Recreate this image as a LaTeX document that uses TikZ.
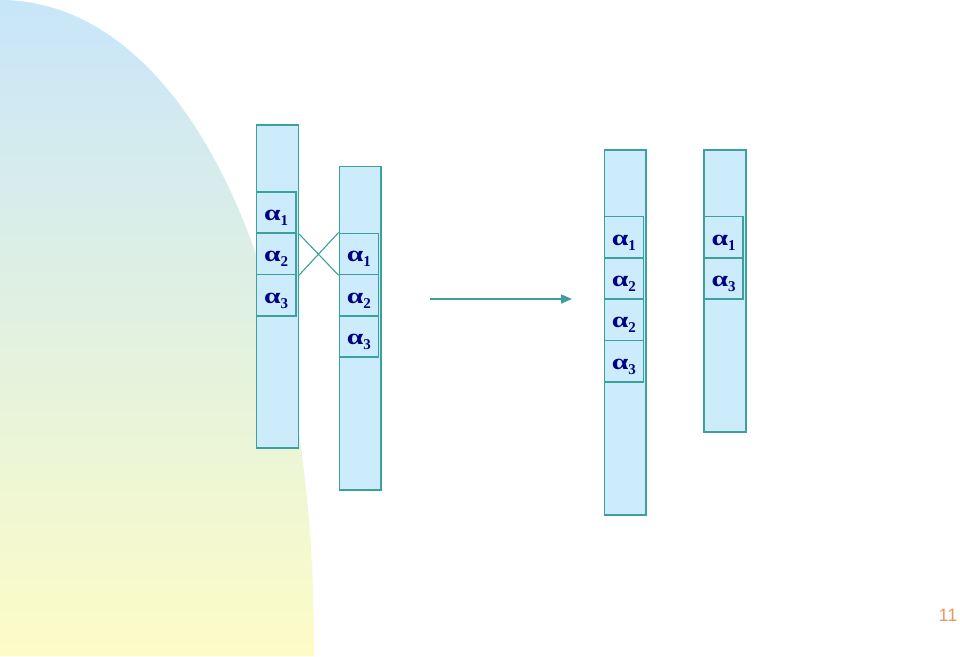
\documentclass[tikz,border=0pt]{standalone}
\usepackage{graphicx}
\usepackage{fontspec}
\setmainfont{Liberation Serif}
\newfontfamily\pgnum{Liberation Sans}
\usetikzlibrary{arrows.meta}
\definecolor{teal1}{RGB}{60,160,156}
\definecolor{chromfill}{RGB}{204,236,252}
\definecolor{navy1}{RGB}{0,0,128}
\definecolor{bgtop}{RGB}{200,230,250}
\definecolor{bgbot}{RGB}{252,252,198}
\definecolor{pgorange}{RGB}{232,150,100}
\tikzset{
 chrom/.style={draw=teal1, fill=chromfill, line width=1.5pt, inner sep=0pt, minimum width=41.7pt},
 gene/.style={draw=teal1, fill=chromfill, line width=1.5pt, inner sep=0pt, minimum width=39pt, minimum height=41.3pt, text height=16pt, text depth=0pt, text=navy1, font=\fontsize{22}{22}\selectfont\bfseries},
 link/.style={draw=teal1, line width=1.1pt},
 arr/.style={draw=teal1, line width=1.6pt, -{Triangle[length=11pt,width=9pt]}},
 pagenum/.style={text=pgorange, font=\pgnum\fontsize{18}{18}\selectfont},
}
\newcommand{\al}[1]{\scalebox{1.35}[1]{α}\raisebox{-5pt}{\fontsize{15}{15}\selectfont #1}}
\begin{document}
\begin{tikzpicture}[x=1pt,y=-1pt]
\useasboundingbox (0,0) rectangle (960,656);
\fill[white] (0,0) rectangle (960,656);
% background shape
\shade[top color=bgtop, bottom color=bgbot] (0,0) .. controls (180,0) and (316,262) .. (314,656) -- (0,656) -- cycle;
% chromosome A
\node[chrom, minimum height=323pt] (cA) at (277.4,286.5) {};
\node[gene, minimum width=39.5pt] (a1) at (276.2,212.5) {\al{1}};
\node[gene, minimum width=39.5pt] (a2) at (276.2,253.8) {\al{2}};
\node[gene, minimum width=39.5pt] (a3) at (276.2,295.1) {\al{3}};
% chromosome B
\node[chrom, minimum height=323.3pt] (cB) at (360.2,328.3) {};
\node[gene] (b1) at (358.8,253.9) {\al{1}};
\node[gene] (b2) at (358.8,295.2) {\al{2}};
\node[gene] (b3) at (358.8,336.5) {\al{3}};
% crossing
\draw[link] (cA.east |- a1.south) -- (cB.west |- b1.south);
\draw[link] (cA.east |- a2.south) -- (cB.west |- b1.north);
% arrow
\coordinate (arrS) at (430,299);
\coordinate (arrE) at (572,299);
\draw[arr] (arrS) -- (arrE);
% chromosome C
\node[chrom, minimum height=365pt] (cC) at (625.2,332.5) {};
\node[gene] (c1) at (623.8,237.2) {\al{1}};
\node[gene] (c2) at (623.8,278.5) {\al{2}};
\node[gene] (c3) at (623.8,319.8) {\al{2}};
\node[gene] (c4) at (623.8,361.1) {\al{3}};
% chromosome D
\node[chrom, minimum height=282pt] (cD) at (724.9,291) {};
\node[gene] (d1) at (723.7,237.2) {\al{1}};
\node[gene] (d2) at (723.7,278.5) {\al{3}};
% page number
\node[pagenum] (pg) at (948,615) {11};
\end{tikzpicture}
\end{document}
